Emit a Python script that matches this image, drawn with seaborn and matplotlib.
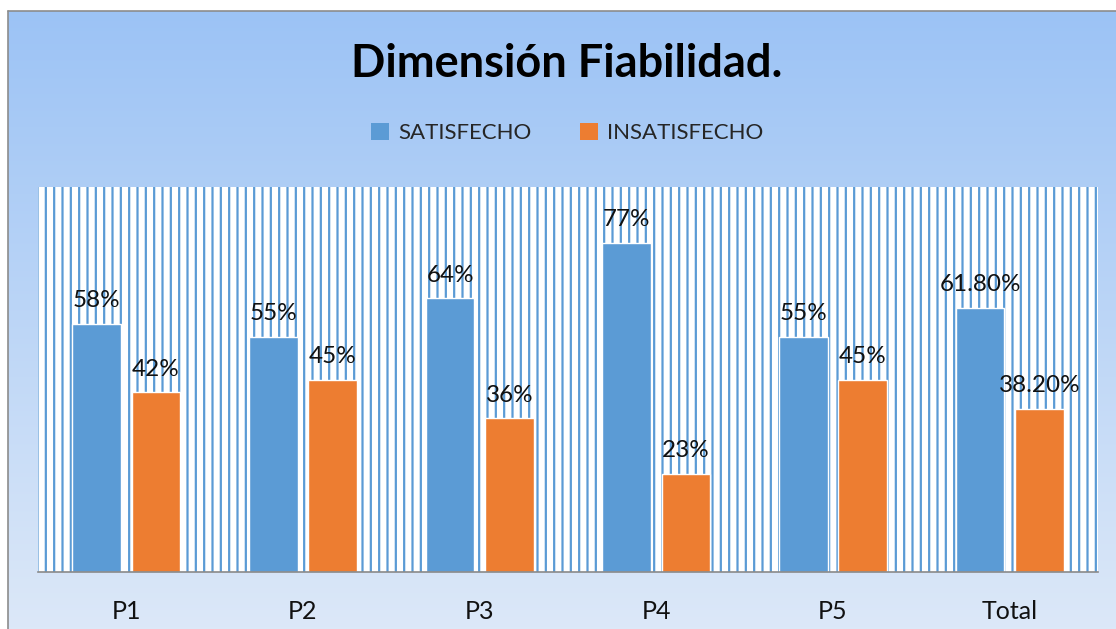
import numpy as np
import pandas as pd
import matplotlib
matplotlib.use("Agg")
import matplotlib.pyplot as plt
from matplotlib.patches import Rectangle
from matplotlib.lines import Line2D
import seaborn as sns

# data
preguntas = ["P1", "P2", "P3", "P4", "P5", "Total"]
satisfecho = [0.58, 0.55, 0.64, 0.77, 0.55, 0.618]
insatisfecho = [0.42, 0.45, 0.36, 0.23, 0.45, 0.382]
etiquetas_sat = ["58%", "55%", "64%", "77%", "55%", "61.80%"]
etiquetas_insat = ["42%", "45%", "36%", "23%", "45%", "38.20%"]
grupos = ["SATISFECHO", "INSATISFECHO"]

azul = "#5b9bd5"
naranja = "#ed7d31"

df = pd.DataFrame({
    "pregunta": preguntas * 2,
    "valor": satisfecho + insatisfecho,
    "grupo": [grupos[0]] * len(preguntas) + [grupos[1]] * len(preguntas),
})

sns.set_theme(style="white")
plt.rcParams["font.family"] = ["Lato", "DejaVu Sans"]
plt.rcParams["hatch.linewidth"] = 1.6
plt.rcParams["hatch.color"] = azul

W, H = 1116, 629
fig = plt.figure(figsize=(W / 100, H / 100), dpi=100)
fig.patch.set_facecolor("white")

# gradient background of the chart area
bg = fig.add_axes([8 / W, 0, 1 - 8 / W, (H - 11) / H], zorder=0)
top = np.array([0.612, 0.765, 0.961])
bottom = np.array([0.863, 0.910, 0.973])
t = np.linspace(0, 1, 256)[:, None]
grad = (top * (1 - t) + bottom * t)[:, None, :]
bg.imshow(grad, aspect="auto", extent=[0, 1, 0, 1])
bg.set_axis_off()
fig.add_artist(Line2D([8 / W, 1], [1 - 11 / H, 1 - 11 / H], color="#8c8c8c", lw=1.2))
fig.add_artist(Line2D([8 / W, 8 / W], [0, 1 - 11 / H], color="#8c8c8c", lw=1.2))

ax = fig.add_axes([38 / W, (H - 572) / H, (1098 - 38) / W, (572 - 187) / H], zorder=1)
ax.set_facecolor("white")
ax.add_patch(Rectangle((0, 0), 1, 1, transform=ax.transAxes, facecolor="white",
                       edgecolor=azul, hatch="||", lw=0, zorder=0))

sns.barplot(data=df, x="pregunta", y="valor", hue="grupo", palette=[azul, naranja],
            saturation=1, width=0.67, gap=0.18, edgecolor="white", linewidth=1,
            legend=False, ax=ax, zorder=2)

for cont, labs in zip(ax.containers, [etiquetas_sat, etiquetas_insat]):
    ax.bar_label(cont, labels=labs, padding=9, fontsize=17.5, color="#111111")

ax.set_ylim(0, 0.9)
ax.set_xlim(-0.5, len(preguntas) - 0.5)
ax.set_xlabel("")
ax.set_ylabel("")
ax.set_yticks([])
ax.tick_params(axis="x", length=0, pad=20, labelsize=18, labelcolor="#111111")
for s in ["top", "right", "left"]:
    ax.spines[s].set_visible(False)
ax.spines["bottom"].set_color("#898989")
ax.spines["bottom"].set_linewidth(1.2)

fig.text(567 / W, 1 - 64 / H, "Dimensión Fiabilidad.", ha="center", va="center",
         fontsize=32.5, fontweight="bold", color="black")

handles = [Rectangle((0, 0), 1, 1, facecolor=c, edgecolor="none") for c in [azul, naranja]]
fig.legend(handles, grupos, loc="center", bbox_to_anchor=(567 / W, 1 - 133 / H),
           ncol=2, frameon=False, fontsize=16, handlelength=0.8, handleheight=0.8,
           handletextpad=0.4, columnspacing=2.2)

fig.savefig("out.png", dpi=100)
